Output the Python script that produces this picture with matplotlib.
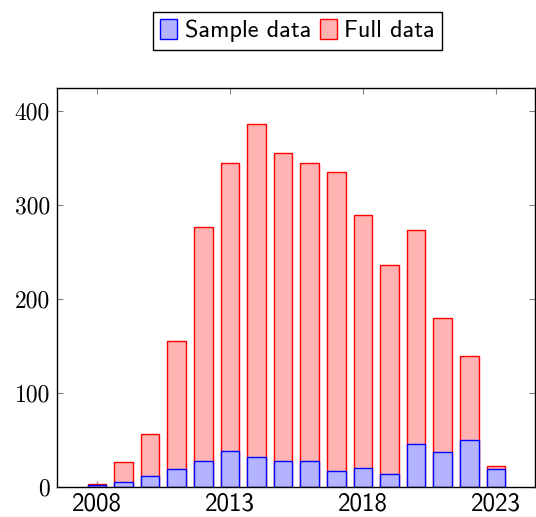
import numpy as np
import matplotlib
matplotlib.use('Agg')
import matplotlib.pyplot as plt

# years and counts
years = np.arange(2008, 2024)
sample_data = [2, 6, 12, 20, 28, 39, 32, 28, 28, 17, 21, 14, 46, 38, 50, 20]
full_data = [4, 27, 57, 155, 277, 345, 386, 355, 345, 335, 289, 236, 273, 180, 140, 23]
xtick_years = [2008, 2013, 2018, 2023]
ytick_vals = [0, 100, 200, 300, 400]

fig = plt.figure(figsize=(5.36, 5.17), dpi=100)
ax = fig.add_axes([0.1063, 0.0574, 0.8917, 0.7716])

bar_w = 0.7
ax.bar(years, full_data, width=bar_w, color='#ffb3b3', edgecolor='red',
       linewidth=1.0, label='Full data', zorder=2)
ax.bar(years, sample_data, width=bar_w, color='#b3b3ff', edgecolor='blue',
       linewidth=1.0, label='Sample data', zorder=3)

ax.set_xlim(2006.5, 2024.47)
ax.set_ylim(0, 424)
ax.set_xticks(xtick_years)
ax.set_yticks(ytick_vals)
ax.set_xticklabels([str(y) for y in xtick_years], family='cmss10', fontsize=18)
ax.set_yticklabels([str(v) for v in ytick_vals], family='cmr10', fontsize=17)

ax.tick_params(direction='in', length=4, width=0.8, color='#808080',
               top=True, right=True, pad=5, zorder=4)
ax.tick_params(axis='x', pad=4)
for s in ax.spines.values():
    s.set_linewidth(1.0)
    s.set_zorder(5)

handles, labels = ax.get_legend_handles_labels()
leg = fig.legend(handles[::-1], labels[::-1], loc='center',
                 bbox_to_anchor=(0.555, 0.9405), ncol=2, frameon=True,
                 fancybox=False, edgecolor='black', framealpha=1,
                 prop={'family': 'cmss10', 'size': 17.5},
                 handlelength=0.7, handleheight=0.9, handletextpad=0.3,
                 columnspacing=0.35, borderpad=0.3, borderaxespad=0)
leg.get_frame().set_linewidth(1.0)

fig.savefig('out.png', dpi=100)
